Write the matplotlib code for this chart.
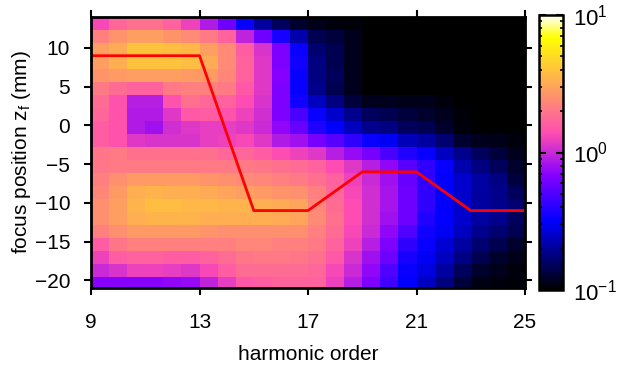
import numpy as np
import matplotlib
matplotlib.use("Agg")
import matplotlib.pyplot as plt
from matplotlib.colors import LogNorm
from matplotlib.ticker import LogLocator

plt.rcParams["font.family"] = ["Liberation Sans", "DejaVu Sans"]
plt.rcParams["mathtext.fontset"] = "custom"
plt.rcParams["mathtext.rm"] = "Liberation Sans"
plt.rcParams["mathtext.it"] = "Liberation Sans:italic"

# harmonic order axis: 24 columns between 9 and 25
harm_lo, harm_hi, n_cols = 9, 25, 24
# focus position axis: rows from the top (14 mm) downward
focus_top, focus_step, n_rows = 14.0, 1.68, 21

# log10 of the harmonic yield, one row per focus position (top row first)
log_yield = [
    [0.12, 0.24, 0.28, 0.28, 0.22, 0.10, -0.06, -0.22, -0.48, -0.68, -0.82, -0.91, -0.95, -0.97, -0.98, -1.3, -1.3, -1.3, -1.3, -1.3, -1.3, -1.3, -1.3, -1.3],
    [0.34, 0.42, 0.46, 0.46, 0.42, 0.38, 0.32, 0.22, -0.02, -0.22, -0.44, -0.66, -0.84, -0.88, -0.94, -1.3, -1.3, -1.3, -1.3, -1.3, -1.3, -1.3, -1.3, -1.3],
    [0.46, 0.50, 0.60, 0.60, 0.58, 0.56, 0.46, 0.38, 0.20, 0.04, -0.18, -0.48, -0.78, -0.84, -0.94, -1.3, -1.3, -1.3, -1.3, -1.3, -1.3, -1.3, -1.3, -1.3],
    [0.46, 0.52, 0.60, 0.60, 0.60, 0.58, 0.50, 0.38, 0.22, 0.06, -0.18, -0.46, -0.75, -0.84, -0.94, -1.3, -1.3, -1.3, -1.3, -1.3, -1.3, -1.3, -1.3, -1.3],
    [0.42, 0.44, 0.46, 0.46, 0.46, 0.44, 0.44, 0.36, 0.22, 0.06, -0.16, -0.48, -0.75, -0.82, -0.94, -1.3, -1.3, -1.3, -1.3, -1.3, -1.3, -1.3, -1.3, -1.3],
    [0.32, 0.26, 0.22, 0.22, 0.32, 0.34, 0.34, 0.32, 0.18, 0.06, -0.18, -0.48, -0.72, -0.84, -0.94, -1.3, -1.3, -1.3, -1.3, -1.3, -1.3, -1.3, -1.3, -1.3],
    [0.26, 0.16, -0.04, -0.04, 0.16, 0.28, 0.24, 0.22, 0.14, 0.04, -0.18, -0.46, -0.62, -0.75, -0.88, -0.94, -0.94, -0.95, -0.95, -0.97, -1.3, -1.3, -1.3, -1.3],
    [0.24, 0.16, -0.06, -0.06, 0.06, 0.18, 0.20, 0.16, 0.10, 0.02, -0.18, -0.32, -0.48, -0.60, -0.72, -0.82, -0.84, -0.88, -0.91, -0.94, -0.98, -1.3, -1.3, -1.3],
    [0.20, 0.16, -0.06, -0.10, 0.02, 0.06, 0.08, 0.08, 0.06, 0.00, -0.14, -0.24, -0.42, -0.50, -0.62, -0.72, -0.75, -0.82, -0.84, -0.91, -0.97, -1.3, -1.3, -1.3],
    [0.20, 0.16, 0.06, 0.04, 0.04, 0.04, 0.08, 0.10, 0.12, 0.06, -0.06, -0.10, -0.20, -0.28, -0.38, -0.48, -0.52, -0.64, -0.68, -0.78, -0.90, -0.94, -0.95, -0.97],
    [0.30, 0.32, 0.28, 0.28, 0.28, 0.28, 0.28, 0.24, 0.24, 0.20, 0.14, 0.10, 0.06, -0.04, -0.12, -0.20, -0.32, -0.42, -0.48, -0.62, -0.72, -0.82, -0.88, -0.94],
    [0.30, 0.32, 0.32, 0.32, 0.32, 0.32, 0.32, 0.32, 0.32, 0.30, 0.28, 0.26, 0.22, 0.14, 0.06, -0.04, -0.14, -0.28, -0.38, -0.48, -0.66, -0.75, -0.82, -0.91],
    [0.34, 0.40, 0.44, 0.44, 0.44, 0.44, 0.42, 0.40, 0.38, 0.36, 0.34, 0.32, 0.28, 0.22, 0.10, 0.00, -0.10, -0.24, -0.38, -0.50, -0.60, -0.68, -0.75, -0.88],
    [0.36, 0.44, 0.52, 0.54, 0.52, 0.52, 0.50, 0.48, 0.46, 0.44, 0.42, 0.40, 0.34, 0.24, 0.12, 0.02, -0.08, -0.22, -0.38, -0.50, -0.60, -0.68, -0.72, -0.82],
    [0.40, 0.46, 0.54, 0.58, 0.58, 0.56, 0.56, 0.54, 0.54, 0.52, 0.50, 0.48, 0.36, 0.26, 0.14, 0.02, -0.08, -0.22, -0.38, -0.50, -0.60, -0.68, -0.72, -0.78],
    [0.40, 0.46, 0.52, 0.54, 0.54, 0.54, 0.52, 0.52, 0.52, 0.52, 0.50, 0.48, 0.38, 0.28, 0.14, 0.02, -0.10, -0.22, -0.42, -0.50, -0.60, -0.68, -0.72, -0.82],
    [0.34, 0.40, 0.44, 0.44, 0.44, 0.44, 0.42, 0.40, 0.40, 0.40, 0.40, 0.40, 0.34, 0.26, 0.12, 0.00, -0.14, -0.30, -0.46, -0.52, -0.62, -0.72, -0.78, -0.84],
    [0.20, 0.30, 0.34, 0.34, 0.34, 0.34, 0.34, 0.34, 0.36, 0.36, 0.34, 0.34, 0.32, 0.22, 0.10, -0.04, -0.18, -0.38, -0.48, -0.58, -0.68, -0.78, -0.84, -0.91],
    [0.10, 0.20, 0.22, 0.22, 0.20, 0.20, 0.22, 0.26, 0.30, 0.32, 0.32, 0.30, 0.28, 0.18, 0.04, -0.10, -0.22, -0.44, -0.52, -0.62, -0.74, -0.84, -0.91, -0.95],
    [0.00, 0.04, 0.10, 0.10, 0.08, 0.06, 0.12, 0.20, 0.26, 0.26, 0.26, 0.26, 0.24, 0.12, 0.00, -0.14, -0.30, -0.48, -0.56, -0.68, -0.82, -0.91, -0.94, -0.97],
    [-0.16, -0.16, -0.16, -0.16, -0.14, -0.12, -0.02, 0.08, 0.18, 0.20, 0.22, 0.22, 0.22, 0.10, -0.04, -0.18, -0.34, -0.50, -0.62, -0.75, -0.88, -0.96, -0.97, -0.98],
]

# optimal focus position (red line)
line_harm = [9, 13, 15, 17, 19, 21, 23, 25]
line_focus = [9, 9, -11, -11, -6, -6, -11, -11]

intensity = 10.0 ** np.array(log_yield)
x_edges = np.linspace(harm_lo, harm_hi, n_cols + 1)
y_edges = focus_top - focus_step * np.arange(n_rows + 1)

cmap = plt.get_cmap("gnuplot2").copy()
cmap.set_under("black")

fig = plt.figure(figsize=(6.17, 3.72), dpi=100)
ax = fig.add_axes([0.1475, 0.2258, 0.7034, 0.7285])
mesh = ax.pcolormesh(x_edges, y_edges, intensity, cmap=cmap,
                     norm=LogNorm(vmin=0.1, vmax=10), shading="flat")
ax.plot(line_harm, line_focus, color="red", linewidth=2)

ax.set_xlim(9, 25)
ax.set_ylim(-21, 14)
ax.set_xticks([9, 13, 17, 21, 25])
ax.set_yticks([-20, -15, -10, -5, 0, 5, 10])
ax.tick_params(direction="out", length=5, width=1.5, labelsize=15,
               top=True, right=True)
ax.tick_params(axis="x", pad=13)
ax.tick_params(axis="y", pad=10)
for s in ax.spines.values():
    s.set_linewidth(2)
ax.set_xlabel("harmonic order", fontsize=15, labelpad=9)
ax.set_ylabel("focus position z$_\\mathrm{f}$ (mm)", fontsize=15, labelpad=1)

cax = fig.add_axes([0.8736, 0.2204, 0.0389, 0.7392])
cb = fig.colorbar(mesh, cax=cax)
cb.outline.set_linewidth(1.8)
cb.ax.yaxis.set_major_locator(LogLocator(base=10))
cb.ax.yaxis.set_minor_locator(LogLocator(base=10, subs=np.arange(2, 10)))
cb.ax.tick_params(which="major", direction="in", length=5, width=1.5,
                  left=True, right=True, labelsize=16, pad=7)
cb.ax.tick_params(which="minor", direction="in", length=2.5, width=1.2,
                  left=True, right=True)

fig.savefig("out.png", dpi=100)
